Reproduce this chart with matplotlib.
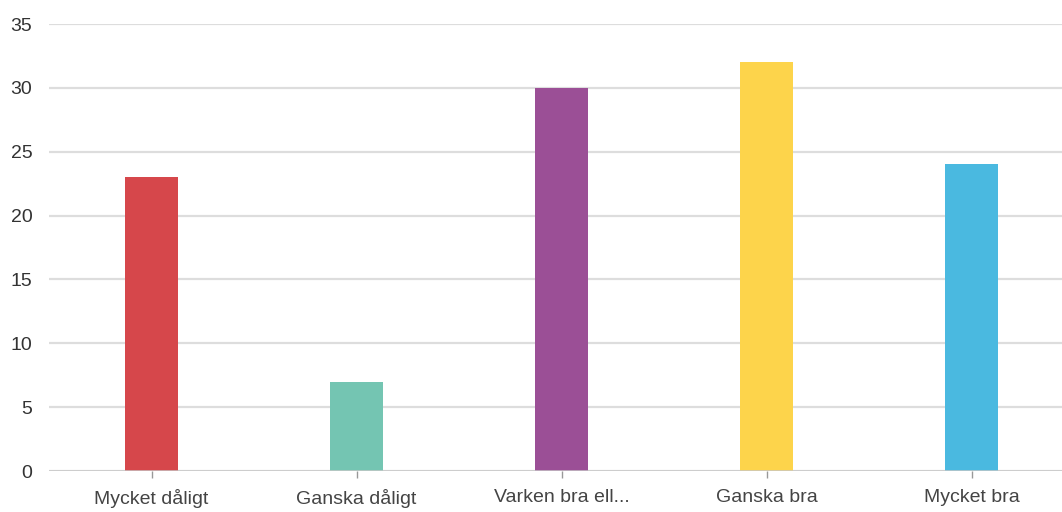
import matplotlib.pyplot as plt
import numpy as np

categories = ['Mycket dåligt', 'Ganska dåligt', 'Varken bra ell...', 'Ganska bra', 'Mycket bra']
values = [23, 7, 30, 32, 24]
colors = ['#d6474b', '#74c5b2', '#9b4f96', '#fdd44b', '#4ab9e0']

plt.rcParams['font.family'] = ['Liberation Sans', 'DejaVu Sans']

fig = plt.figure(figsize=(10.62, 5.12), dpi=100)
ax = fig.add_axes([49/1062, 41/512, 1025/1062, 447/512])

x = np.arange(len(categories))
ax.bar(x, values, width=0.255, color=colors, zorder=3)

ax.set_ylim(0, 35)
ax.set_xlim(-0.5, 4.5)
ax.set_yticks(range(0, 36, 5))
ax.set_xticks(x)
ax.set_xticklabels(categories)
ax.grid(axis='y', color='#dddddd', linewidth=1.6, zorder=0)
ax.axhline(0, color='#c8c8c8', linewidth=1.8, zorder=4)

for s in ax.spines.values():
    s.set_visible(False)

ax.tick_params(axis='y', length=0, pad=12, labelsize=14, labelcolor='#333333')
ax.tick_params(axis='x', length=5, width=1, color='#999999', pad=8,
               labelsize=14, labelcolor='#444444')

fig.savefig('out.png', dpi=100)
